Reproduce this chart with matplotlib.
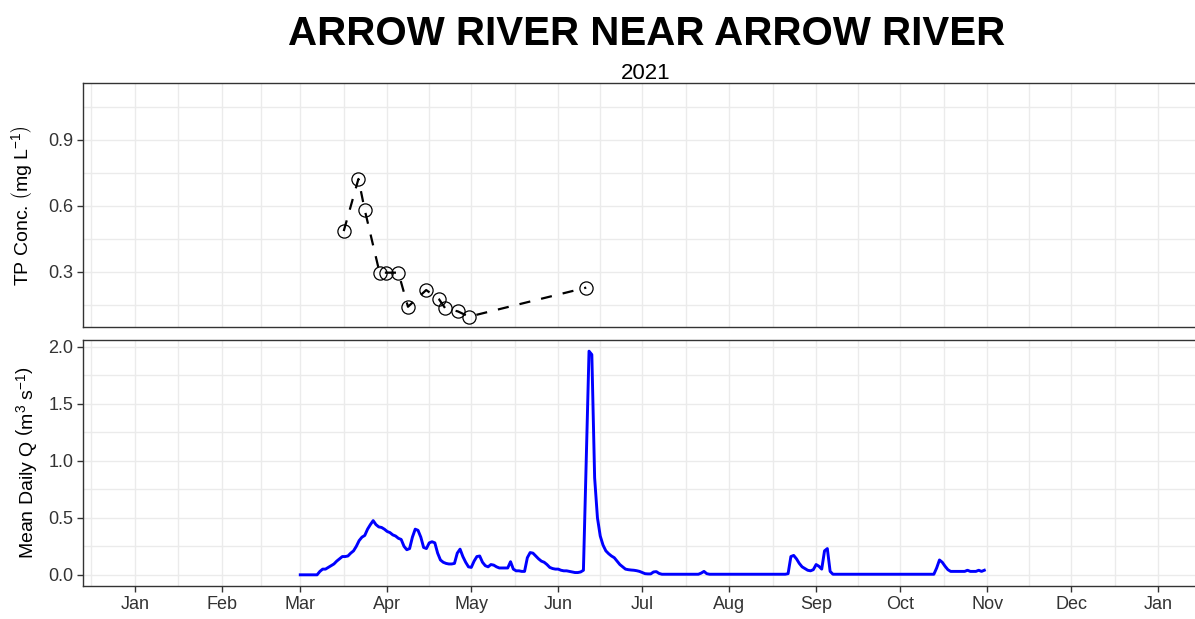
import matplotlib
matplotlib.use('Agg')
import matplotlib.pyplot as plt
import matplotlib.dates as mdates
import matplotlib.ticker as mticker
import pandas as pd

plt.rcParams['font.family'] = ['Liberation Sans', 'DejaVu Sans']
plt.rcParams['mathtext.fontset'] = 'custom'
plt.rcParams['mathtext.rm'] = 'Liberation Sans'
plt.rcParams['mathtext.it'] = 'Liberation Sans:italic'

# TP samples (date, mg/L)
tp_dates = ['2021-03-16 12:00', '2021-03-21 18:00', '2021-03-24 00:00',
            '2021-03-29 07:00', '2021-03-31 17:00', '2021-04-05 00:00',
            '2021-04-08 10:00', '2021-04-14 22:00', '2021-04-19 12:00',
            '2021-04-21 17:00', '2021-04-26 05:00', '2021-04-30 05:00',
            '2021-06-11 00:00']
tp_conc = [0.486, 0.723, 0.582, 0.297, 0.297, 0.297, 0.142, 0.218, 0.176,
           0.135, 0.121, 0.097, 0.229]

# mean daily flow, one value per day from q_start
q_start = '2021-03-01'
q_values = [
    0, 0, 0, 0, 0, 0, 0,
    0.03, 0.05, 0.05, 0.065, 0.08, 0.095, 0.12, 0.14, 0.16, 0.16,
    0.165, 0.19, 0.21, 0.25, 0.30, 0.33, 0.345, 0.40, 0.44, 0.475,
    0.44, 0.42, 0.415, 0.40, 0.38, 0.37, 0.35, 0.34, 0.32, 0.31,
    0.25, 0.22, 0.23, 0.33, 0.40, 0.39, 0.33, 0.24, 0.23, 0.28,
    0.29, 0.28, 0.19, 0.13, 0.11, 0.10, 0.095, 0.095, 0.10, 0.19,
    0.225, 0.16, 0.11, 0.07, 0.065, 0.12, 0.16, 0.165, 0.11, 0.08,
    0.07, 0.09, 0.085, 0.07, 0.06, 0.06, 0.06, 0.06, 0.115, 0.05,
    0.035, 0.035, 0.03, 0.03, 0.15, 0.195, 0.19, 0.165, 0.14, 0.12,
    0.11, 0.09, 0.065, 0.055, 0.05, 0.05, 0.04, 0.035, 0.035, 0.03,
    0.025, 0.02, 0.02, 0.025, 0.04, 1.0, 1.96, 1.93, 0.85, 0.5,
    0.34, 0.26, 0.21, 0.185, 0.165, 0.15, 0.12, 0.09, 0.07, 0.05,
    0.045, 0.042, 0.04, 0.036, 0.03, 0.02, 0.01, 0.008, 0.008, 0.025,
    0.028, 0.012, 0.005, 0.005, 0.005, 0.005, 0.005, 0.005, 0.005, 0.005,
    0.005, 0.005, 0.005, 0.005, 0.005, 0.005, 0.015, 0.03, 0.01, 0.005,
    0.005, 0.005, 0.005, 0.005, 0.005, 0.005, 0.005, 0.005, 0.005, 0.005,
    0.005, 0.005, 0.005, 0.005, 0.005, 0.005, 0.005, 0.005, 0.005, 0.005,
    0.005, 0.005, 0.005, 0.005, 0.005, 0.005, 0.005, 0.01, 0.16, 0.17,
    0.14, 0.10, 0.07, 0.055, 0.04, 0.035, 0.045, 0.09, 0.075, 0.05,
    0.21, 0.23, 0.03, 0.005, 0.005, 0.005, 0.005, 0.005, 0.005, 0.005,
    0.005, 0.005, 0.005, 0.005, 0.005, 0.005, 0.005, 0.005, 0.005, 0.005,
    0.005, 0.005, 0.005, 0.005, 0.005, 0.005, 0.005, 0.005, 0.005, 0.005,
    0.005, 0.005, 0.005, 0.005, 0.005, 0.005, 0.005, 0.005, 0.005, 0.005,
    0.06, 0.13, 0.11, 0.075, 0.045, 0.03, 0.03, 0.03, 0.03, 0.03,
    0.03, 0.04, 0.03, 0.03, 0.03, 0.04, 0.03, 0.04,
]

title = 'ARROW RIVER NEAR ARROW RIVER'
subtitle = '2021'

tp = pd.DataFrame({'date': pd.to_datetime(tp_dates), 'conc': tp_conc})
q = pd.DataFrame({'date': pd.date_range(q_start, periods=len(q_values), freq='D'),
                  'flow': q_values})

W, H = 1195, 619
fig = plt.figure(figsize=(W / 100, H / 100), dpi=100)
x0, x1 = 83, 1210
ax1 = fig.add_axes([x0 / W, 1 - 327 / H, (x1 - x0) / W, (327 - 83) / H])
ax2 = fig.add_axes([x0 / W, 1 - 586 / H, (x1 - x0) / W, (586 - 340) / H])

# month breaks + mid-month minor breaks (ggplot style)
months = pd.date_range('2020-12-01', '2022-02-01', freq='MS')
mnum = mdates.date2num(months)
minors = (mnum[:-1] + mnum[1:]) / 2
xlo = pd.Timestamp('2021-01-01') - pd.Timedelta(days=18.5)
xhi = pd.Timestamp('2022-01-01') + pd.Timedelta(days=18.5)

for ax in (ax1, ax2):
    ax.set_xlim(xlo, xhi)
    ax.xaxis.set_major_locator(mticker.FixedLocator(mnum))
    ax.xaxis.set_minor_locator(mticker.FixedLocator(minors))
    ax.xaxis.set_major_formatter(mdates.DateFormatter('%b'))
    ax.grid(True, which='both', color='#EBEBEB', lw=1.0)
    ax.set_axisbelow(True)
    for s in ax.spines.values():
        s.set_color('#333333')
        s.set_linewidth(1.0)
    ax.tick_params(which='major', length=4, width=1.0, color='#333333',
                   labelsize=13, labelcolor='#333333', pad=3)
    ax.tick_params(which='minor', length=0)

# top: TP concentration
ax1.plot(tp['date'], tp['conc'], color='black', lw=1.6, ls=(0, (5, 5)))
ax1.plot(tp['date'], tp['conc'], ls='none', marker='o', ms=9.5,
         mfc='none', mec='black', mew=0.9)
ax1.set_ylim(0.05, 1.159)
ax1.yaxis.set_major_locator(mticker.FixedLocator([0.3, 0.6, 0.9]))
ax1.yaxis.set_minor_locator(mticker.FixedLocator([0.15, 0.45, 0.75, 1.05]))
ax1.yaxis.set_major_formatter(mticker.FormatStrFormatter('%.1f'))
ax1.tick_params(axis='x', which='major', length=0, labelbottom=False)

# bottom: mean daily Q
ax2.plot(q['date'], q['flow'], color='#0000FF', lw=2.1)
ax2.set_ylim(-0.098, 2.058)
ax2.yaxis.set_major_locator(mticker.FixedLocator([0, 0.5, 1.0, 1.5, 2.0]))
ax2.yaxis.set_minor_locator(mticker.FixedLocator([0.25, 0.75, 1.25, 1.75]))
ax2.yaxis.set_major_formatter(mticker.FormatStrFormatter('%.1f'))

fig.text(22 / W, 1 - 206 / H, r'TP Conc. $\left(\mathrm{mg\ L^{-1}}\right)$',
         rotation=90, ha='center', va='center', fontsize=14)
fig.text(27 / W, 1 - 463 / H, r'Mean Daily Q $\left(\mathrm{m^{3}\ s^{-1}}\right)$',
         rotation=90, ha='center', va='center', fontsize=14)

fig.text(647 / W, 1 - 45 / H, title, ha='center', va='baseline',
         fontsize=29, fontweight='bold')
fig.text(646 / W, 1 - 79 / H, subtitle, ha='center', va='baseline', fontsize=16)

fig.savefig('out.png', dpi=100)
